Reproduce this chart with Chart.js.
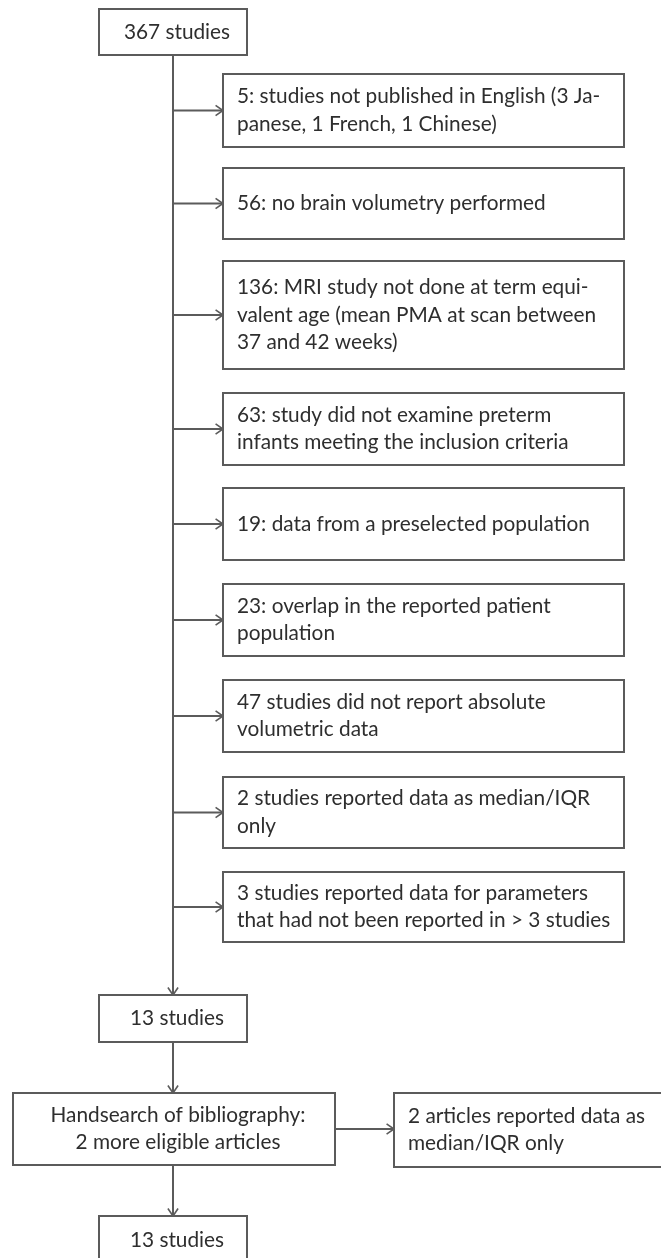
<!DOCTYPE html>
<html>
<head>
<meta charset="utf-8">
<script src="https://cdn.jsdelivr.net/npm/chart.js@4.4.1/dist/chart.umd.min.js"></script>
<style>
html,body{margin:0;padding:0;background:#fff;}
#wrap{width:661px;height:1258px;position:relative;}
</style>
</head>
<body>
<div id="wrap"><canvas id="flow"></canvas></div>
<script>
/* =========================
   DATA
========================= */

// main flow
const startLabel = ["367 studies"];
const afterScreenLabel = ["13 studies"];
const handsearchLabel = ["Handsearch of bibliography:", "2 more eligible articles"];
const finalLabel = ["13 studies"];

// exclusion counts and text (as printed, line by line)
const exclusionCounts = [5, 56, 136, 63, 19, 23, 47, 2, 3];
const exclusionLines = [
  ["5: studies not published in English (3 Ja-", "panese, 1 French, 1 Chinese)"],
  ["56: no brain volumetry performed"],
  ["136: MRI study not done at term equi-", "valent age (mean PMA at scan between", "37 and 42 weeks)"],
  ["63: study did not examine preterm", "infants meeting the inclusion criteria"],
  ["19: data from a preselected population"],
  ["23: overlap in the reported patient", "population"],
  ["47 studies did not report absolute", "volumetric data"],
  ["2 studies reported data as median/IQR", "only"],
  ["3 studies reported data for parameters", "that had not been reported in > 3 studies"]
];
const handsearchExcluded = ["2 articles reported data as", "median/IQR only"];

/* =========================
   LAYOUT (chart units = px of the 661x1258 page)
========================= */

const mainX = 173;
const mainBox = {x0: 99, x1: 247};
const exclBox = {x0: 223, x1: 624};
// top/bottom of each exclusion box
const exclTop = [74, 168, 261, 393, 488, 584, 680, 777, 872];
const exclBottom = [147, 239, 369, 465, 560, 656, 752, 848, 942];
const startBox = {y0: 9, y1: 55};
const screenBox = {y0: 995, y1: 1042};
const handBox = {x0: 13, x1: 335, y0: 1093, y1: 1165};
const sideBox = {x0: 394, x1: 668, y0: 1093, y1: 1167};
const finalBox = {y0: 1216, y1: 1264};

const FONT = '20.8px Lato, "Open Sans", sans-serif';
const LINE_H = 27.5;
const STROKE = "#5b5b5b";
const TEXT = "#2e2e2e";

/* =========================
   DRAWING PLUGIN
========================= */

function drawFlow(chart){
  const ctx = chart.ctx;
  const sx = v => chart.scales.x.getPixelForValue(v);
  const sy = v => chart.scales.y.getPixelForValue(v);

  function box(x0,y0,x1,y1,lines,align){
    const X0 = sx(x0), X1 = sx(x1), Y0 = sy(y0), Y1 = sy(y1);
    ctx.fillStyle = "#fff";
    ctx.fillRect(X0, Y0, X1-X0, Y1-Y0);
    ctx.strokeStyle = STROKE;
    ctx.lineWidth = 2;
    ctx.strokeRect(X0, Y0, X1-X0, Y1-Y0);
    ctx.fillStyle = TEXT;
    ctx.font = FONT;
    ctx.textBaseline = "middle";
    const cy = (Y0+Y1)/2;
    lines.forEach((t,i)=>{
      const y = cy + (i - (lines.length-1)/2) * LINE_H;
      if(align === "left"){
        ctx.textAlign = "left";
        ctx.fillText(t, X0 + 14, y);
      } else {
        ctx.textAlign = "center";
        ctx.fillText(t, (X0+X1)/2 + 4, y);
      }
    });
  }

  function line(x0,y0,x1,y1){
    ctx.strokeStyle = STROKE;
    ctx.lineWidth = 2;
    ctx.beginPath();
    ctx.moveTo(sx(x0), sy(y0));
    ctx.lineTo(sx(x1), sy(y1));
    ctx.stroke();
  }

  // open chevron head at (x1,y1), pointing along the segment
  function arrow(x0,y0,x1,y1){
    line(x0,y0,x1,y1);
    const X0 = sx(x0), Y0 = sy(y0), X1 = sx(x1), Y1 = sy(y1);
    const a = Math.atan2(Y1-Y0, X1-X0);
    const L = 9, W = 0.6;
    ctx.lineWidth = 1.6;
    ctx.beginPath();
    ctx.moveTo(X1 - L*Math.cos(a-W), Y1 - L*Math.sin(a-W));
    ctx.lineTo(X1, Y1);
    ctx.lineTo(X1 - L*Math.cos(a+W), Y1 - L*Math.sin(a+W));
    ctx.stroke();
  }

  ctx.save();
  ctx.lineCap = "butt";

  // trunk and branches
  arrow(mainX, startBox.y1, mainX, screenBox.y0);
  exclusionLines.forEach((lines,i)=>{
    const mid = (exclTop[i] + exclBottom[i]) / 2;
    arrow(mainX, mid, exclBox.x0, mid);
  });
  arrow(mainX, screenBox.y1, mainX, handBox.y0);
  arrow(handBox.x1, (handBox.y0+handBox.y1)/2, sideBox.x0, (handBox.y0+handBox.y1)/2);
  arrow(mainX, handBox.y1, mainX, finalBox.y0);

  // boxes
  box(mainBox.x0, startBox.y0, mainBox.x1, startBox.y1, startLabel, "center");
  exclusionLines.forEach((lines,i)=>{
    box(exclBox.x0, exclTop[i], exclBox.x1, exclBottom[i], lines, "left");
  });
  box(mainBox.x0, screenBox.y0, mainBox.x1, screenBox.y1, afterScreenLabel, "center");
  box(handBox.x0, handBox.y0, handBox.x1, handBox.y1, handsearchLabel, "center");
  box(sideBox.x0, sideBox.y0, sideBox.x1, sideBox.y1, handsearchExcluded, "left");
  box(mainBox.x0, finalBox.y0, mainBox.x1, finalBox.y1, finalLabel, "center");

  ctx.restore();
}

/* =========================
   CHART
========================= */

new Chart(document.getElementById("flow"), {
  type: "scatter",
  data: {
    datasets: [{
      label: "excluded",
      data: exclusionCounts.map((n,i)=>({x: exclBox.x0, y: (exclTop[i]+exclBottom[i])/2, n: n})),
      pointRadius: 0,
      showLine: false
    }]
  },
  options: {
    responsive: true,
    maintainAspectRatio: false,
    animation: false,
    devicePixelRatio: window.devicePixelRatio || 1,
    layout: {padding: 0},
    plugins: {legend: {display: false}, tooltip: {enabled: false}},
    scales: {
      x: {type: "linear", min: 0, max: 661, display: false},
      y: {type: "linear", min: 0, max: 1258, reverse: true, display: false}
    }
  },
  plugins: [{id: "flow", afterDraw: drawFlow}]
});
</script>
</body>
</html>
